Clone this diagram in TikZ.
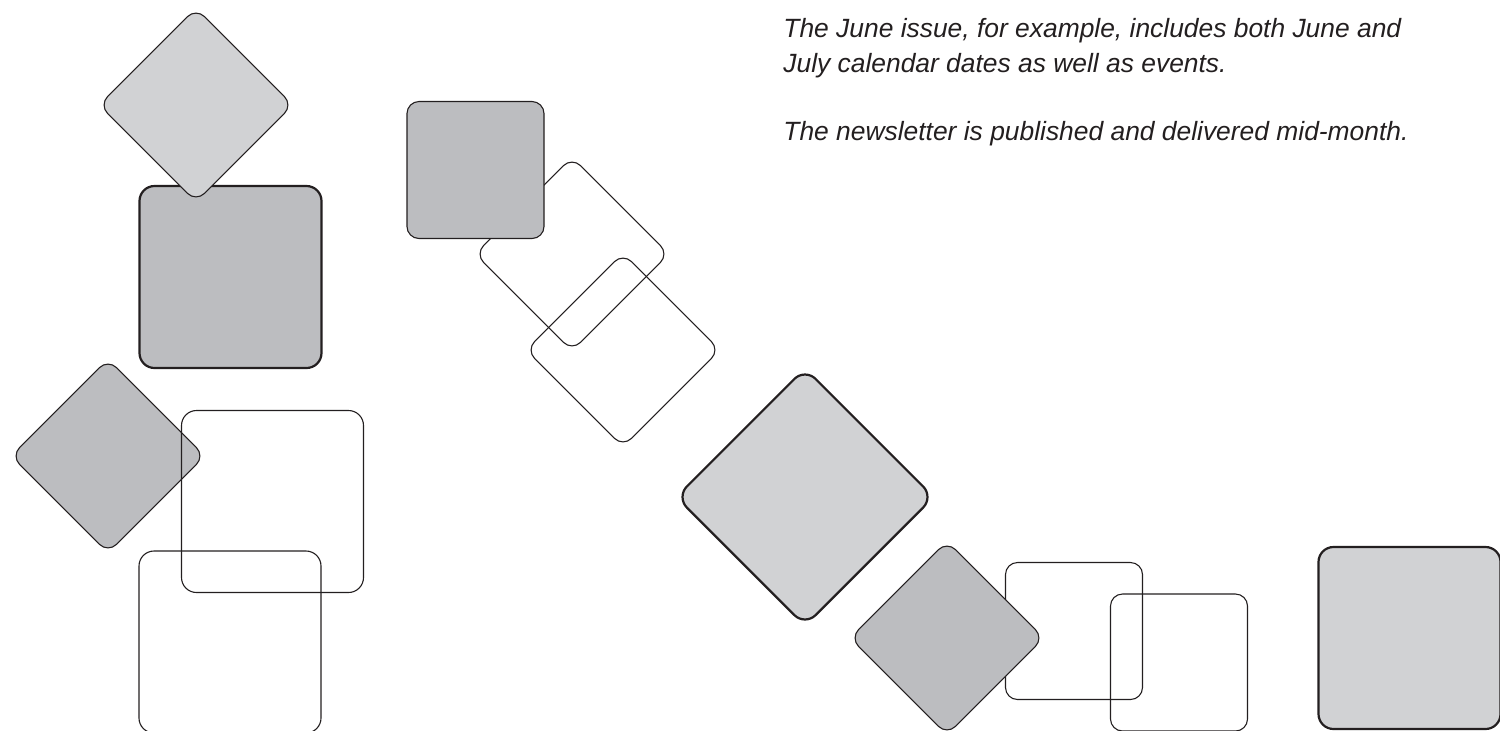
\documentclass[tikz,border=0pt]{standalone}
\usepackage{fontspec}
\setmainfont{Liberation Sans}
\definecolor{lightg}{HTML}{D1D2D4}
\definecolor{darkg}{HTML}{BCBDC0}
\definecolor{ink}{HTML}{231F20}
\tikzset{
  tile/.style={shape=rectangle, inner sep=0pt, outer sep=0pt, draw=ink, line width=0.55pt},
  tilesmall/.style={minimum width=68.5pt, minimum height=68.5pt, rounded corners=6pt},
  tilelarge/.style={minimum width=91pt, minimum height=91pt, rounded corners=7.5pt},
  heavy/.style={line width=1.1pt},
  turned/.style={rotate=45},
  lightfill/.style={fill=lightg},
  darkfill/.style={fill=darkg},
  caption/.style={anchor=base west, inner sep=0pt, text=ink, font=\fontsize{13.2pt}{16pt}\selectfont\itshape}
}
\begin{document}
\begin{tikzpicture}[x=0.5pt,y=-0.5pt]
\useasboundingbox (0,0) rectangle (1500,730);
% left column
\node[tile,tilelarge,heavy,darkfill] (sqD) at (230.5,277) {};
\node[tile,tilesmall,turned,lightfill] (dmT) at (196,105) {};
\node[tile,tilesmall,turned,darkfill] (dmL) at (108,456) {};
\node[tile,tilelarge] (sqA) at (272.5,501.5) {};
\node[tile,tilelarge] (sqB) at (230,642) {};
% middle group
\node[tile,tilesmall,turned] (dmA) at (572,254) {};
\node[tile,tilesmall,darkfill] (sqC) at (475.5,170) {};
\node[tile,tilesmall,turned] (dmB) at (623,350) {};
% lower right group
\node[tile,tilelarge,turned,heavy,lightfill] (dmE) at (805,497) {};
\node[tile,tilesmall] (sqG) at (1074,631) {};
\node[tile,tilesmall,turned,darkfill] (dmF) at (947,638) {};
\node[tile,tilesmall] (sqH) at (1179,662.5) {};
\node[tile,tilelarge,heavy,lightfill] (sqI) at (1409.5,638) {};
% text
\node[caption] (t1) at (783,37.3) {The June issue, for example, includes both June and};
\node[caption] (t2) at (783,72.7) {July calendar dates as well as events.};
\node[caption] (t3) at (783,140.5) {The newsletter is published and delivered mid-month.};
\end{tikzpicture}
\end{document}
